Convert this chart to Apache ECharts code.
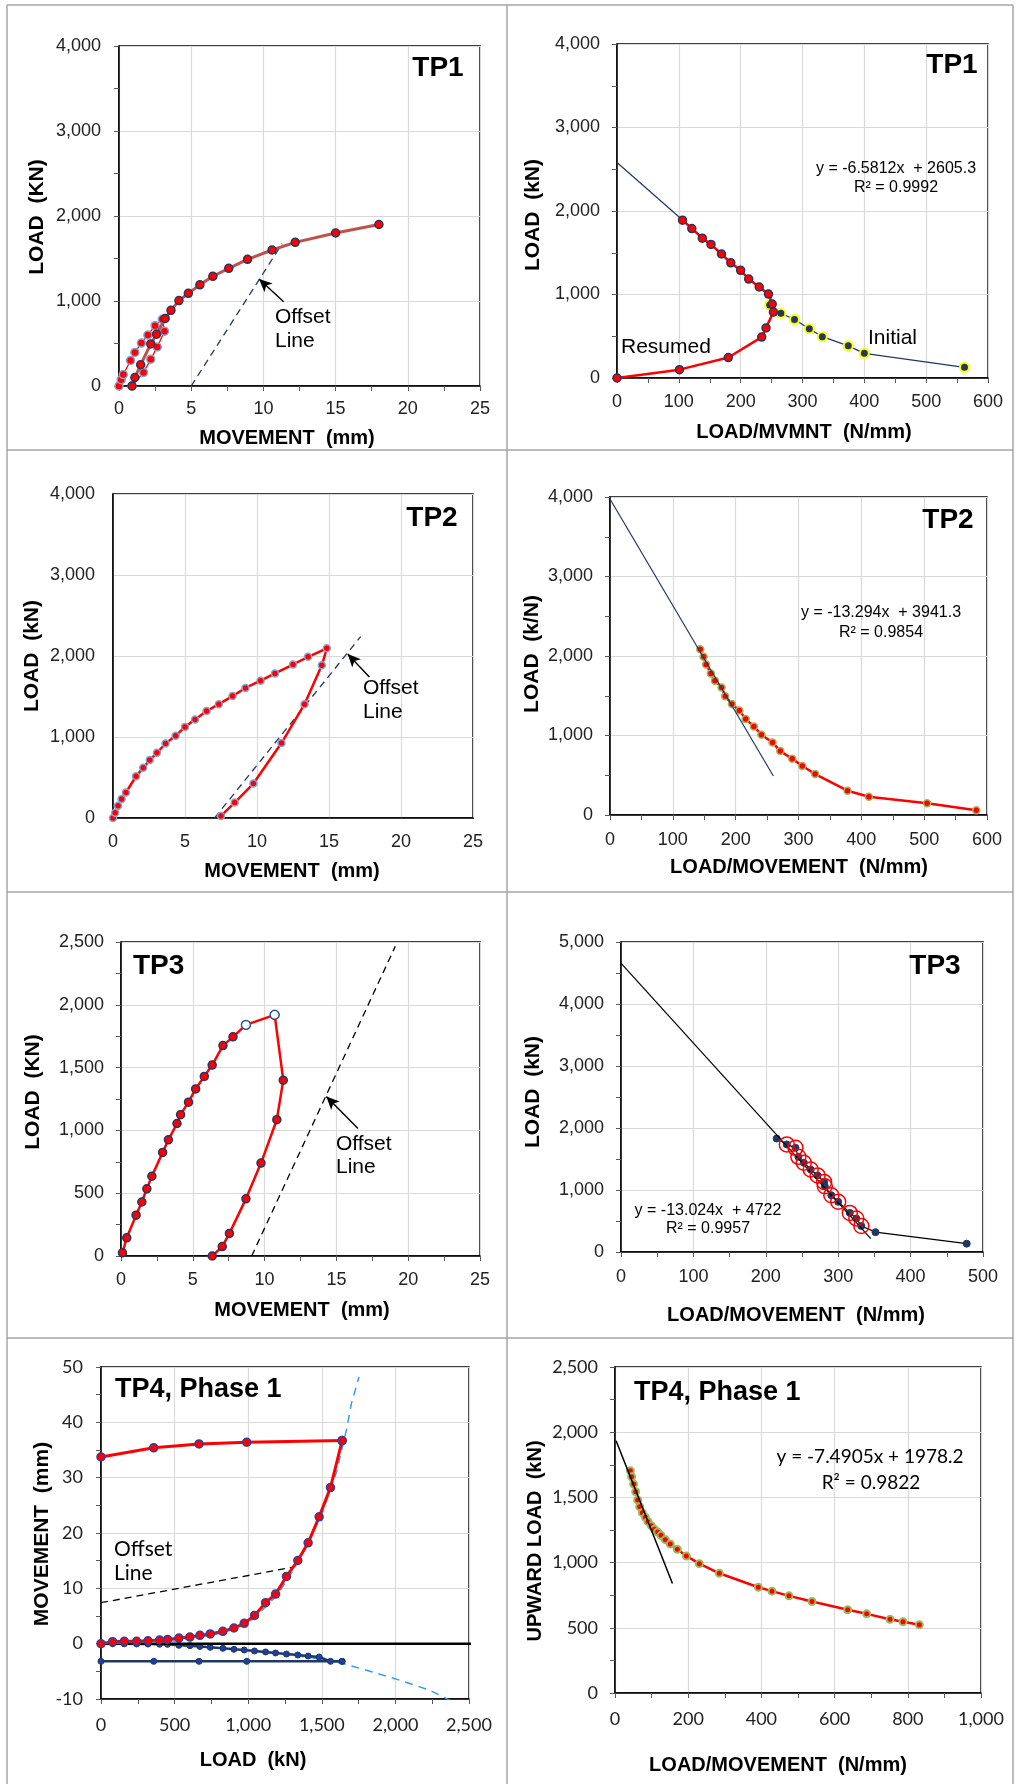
<!DOCTYPE html>
<html><head><meta charset="utf-8">
<script src="https://cdn.jsdelivr.net/npm/echarts/dist/echarts.min.js"></script>
<style>html,body{margin:0;padding:0;background:#fff}#c{width:1017px;height:1784px}</style>
</head><body><div id="c"></div>
<script>
// ---------------- DATA ----------------
// TP1 (movement mm, load kN)
const tp1Cycle = [[0,0],[0.15,75],[0.3,135],[0.8,300],[1.1,395],[1.55,505],[2.0,600],[2.5,710],[3.0,785],[3.15,645],[2.65,460],[2.2,315],[1.7,160],[0.9,0]];
const tp1Main = [[0.9,0],[1.1,100],[1.5,250],[2.2,495],[2.6,610],[3.2,795],[3.6,890],[4.15,1005],[4.8,1090],[5.6,1190],[6.5,1290],[7.6,1385],[8.9,1490],[10.6,1600],[12.2,1690],[15.0,1800],[18.0,1900]];
const tp1Offset = [[5,0],[11.3,1675]];
const tp1Arrow = [[11.4,990],[9.7,1260]];
// TP1 (load/movement N/mm, load kN)
const tp1Resumed = [[0,0],[101,100],[180,245],[234,490],[241,600],[253,790],[251,885],[245,1005],[230,1090],[213,1185],[200,1290],[184,1380],[169,1485],[152,1600],[138,1675],[121,1790],[106,1890]];
const tp1Initial = [[247,875],[265,775],[287,700],[311,590],[332,495],[374,385],[400,295],[562,128]];
const tp1Trend = [[0,2580],[250,955]];
// TP2
const tp2Load = [[0,0],[0.15,65],[0.35,150],[0.6,235],[0.9,315],[1.6,515],[2.1,620],[2.55,715],[3.05,805],[3.65,920],[4.35,1015],[5.0,1125],[5.7,1215],[6.5,1320],[7.35,1405],[8.3,1505],[9.2,1605],[10.25,1695],[11.25,1785],[12.5,1895],[13.55,1990],[14.85,2095]];
const tp2Unload = [[14.85,2095],[14.5,1885],[13.3,1405],[11.7,925],[9.75,425],[8.45,190],[7.5,25]];
const tp2Offset = [[7.05,0],[17.2,2240]];
const tp2Arrow = [[17.8,1740],[16.3,2025]];
const tp2Ratio = [143.6,149,153,160.6,167,177.6,183.4,194,206,216,229,241,258.7,271,290,306,326.5,378,412,504.6,583];
const tp2RatioLoad = [2086,1990,1893,1780,1688,1604,1495,1395,1315,1206,1114,1009,913,804,708,616,515,306,230,147,59];
const tp2Trend = [[0,3975],[260,490]];
// TP3
const tp3Load = [[0.1,25],[0.4,145],[1.05,325],[1.45,430],[1.8,535],[2.15,635],[2.9,825],[3.3,925],[3.9,1055],[4.15,1125],[4.7,1225],[5.2,1330],[5.8,1430],[6.35,1520],[7.1,1675],[7.8,1745],[8.7,1840],[10.7,1920],[11.3,1400],[10.85,1085],[9.75,740],[8.7,455],[7.55,180],[7.05,75],[6.35,0]];
const tp3Open = [[8.7,1840],[10.7,1920]];
const tp3Offset = [[9.1,0],[19.1,2465]];
const tp3Arrow = [[16.5,1015],[14.3,1270]];
const tp3Ratio = [215,229,241,245,252.5,262,271.5,280.5,281.5,290.5,300,316,325,332,351.5,477.5];
const tp3RatioLoad = [1830,1735,1680,1535,1440,1330,1235,1130,1060,915,810,630,540,420,320,135];
const tp3Trend = [[-8,4760],[345,215]];
// TP4 Phase 1 (load kN, movement mm)
const tp4Load = [0,79,158,242,319,398,452,529,604,672,742,828,903,973,1043,1118,1186,1260,1337,1407,1482,1559,1638];
const tp4Up = [0,0.36,0.42,0.42,0.53,0.66,0.77,1.02,1.2,1.5,1.75,2.23,2.83,3.67,5.1,7.4,8.96,12.15,15.03,18.22,22.92,28.21,36.7];
const tp4Down = [0,-0.02,-0.03,-0.05,-0.07,-0.1,-0.12,-0.3,-0.36,-0.5,-0.66,-0.84,-1.02,-1.14,-1.32,-1.5,-1.68,-1.87,-2.05,-2.23,-2.41,-3.2,-3.2];
const tp4ReturnLoad = [1638,990,666,358,0];
const tp4ReturnUp = [36.7,36.4,36.1,35.4,33.75];
const tp4ReturnDown = [-3.2,-3.2,-3.2,-3.2,-3.2];
const tp4FitUp = [[0,0],[500,0.5],[800,1.8],[1000,3.6],[1100,6.2],[1200,8.9],[1300,13],[1400,17.8],[1500,23.5],[1600,31],[1667,38.6],[1701,43.4],[1753,48.2]];
const tp4FitDown = [[0,0],[500,-0.2],[800,-0.8],[1000,-1.2],[1200,-1.8],[1400,-2.4],[1634,-3.5],[1803,-4.8],[2029,-6.6],[2233,-8.4],[2391,-10.5]];
const tp4Offset = [[0,7.4],[1300,13.8]];
const tp4Zero = [[0,0],[2520,0]];
const tp4Ratio = [41.9,45.5,51,56.5,62,67.4,74.7,82.9,90.2,99.3,107.5,116.6,125.7,137.5,151,170.3,194.9,230.4,285,391.6,429,475.4,538.3,635.7,687.6,751.4,786.9,831.5];
const tp4RatioLoad = [1704,1658,1602,1543,1480,1429,1383,1347,1314,1283,1255,1235,1209,1176,1143,1102,1051,992,918,811,781,745,702,638,607,566,546,523];
const tp4Trend = [[3,1935],[157,840]];

// ---------------- BUILD ----------------
const AR = "'Liberation Sans', Arial, sans-serif";
const CB = "Lato, sans-serif";
const zip = (a,b) => a.map((v,i)=>[v,b[i]]);
const fmt = v => Number(v).toLocaleString('en-US');

const grids = [
  {left:119, top:46, width:361, height:340},
  {left:617, top:44, width:371, height:334},
  {left:113, top:494, width:360, height:324},
  {left:610, top:497, width:377, height:318},
  {left:121, top:942, width:359, height:314},
  {left:621, top:942, width:362, height:310},
  {left:101, top:1367, width:368, height:332},
  {left:615, top:1367, width:366, height:326}
].map(g => Object.assign(g, {show:true, borderColor:'#000', borderWidth:1.5, backgroundColor:'transparent', containLabel:false, outerBoundsMode:'none'}));

function axis(gi, min, max, interval, minor, font, margin, ticks) {
  return {
    gridIndex:gi, type:'value', min, max, interval,
    axisLine:{show:true, onZero:false, lineStyle:{color:'#000', width:1.5}},
    axisTick:{show:ticks, length:5, lineStyle:{color:'#595959', width:1}},
    minorTick:{show:ticks && minor>1, splitNumber:minor, length:5, lineStyle:{color:'#595959', width:1}},
    splitLine:{show:true, lineStyle:{color:'#d9d9d9', width:1.2}},
    axisLabel:{fontSize:18, color:'#222', fontFamily:font, margin, formatter:fmt}
  };
}
const xAxes = [
  axis(0,0,25,5,2,AR,14,true),
  axis(1,0,600,100,2,AR,15,true),
  axis(2,0,25,5,1,AR,15,false),
  axis(3,0,600,100,2,AR,16,true),
  axis(4,0,25,5,2,AR,15,true),
  axis(5,0,500,100,2,AR,16,true),
  axis(6,0,2500,500,2,CB,17,true),
  axis(7,0,1000,200,2,CB,17,true)
];
const yAxes = [
  axis(0,0,4000,1000,2,AR,18,true),
  axis(1,0,4000,1000,2,AR,17,true),
  axis(2,0,4000,1000,1,AR,18,false),
  axis(3,0,4000,1000,2,AR,17,true),
  axis(4,0,2500,500,2,AR,17,true),
  axis(5,0,5000,1000,2,AR,17,true),
  axis(6,-10,50,10,2,CB,18,true),
  axis(7,0,2500,500,2,CB,17,true)
];

function line(gi, data, color, width, o) {
  o = o || {};
  return Object.assign({
    type:'line', xAxisIndex:gi, yAxisIndex:gi, data, animation:false, silent:true,
    symbol: o.size ? 'circle' : 'none', symbolSize:o.size||0, showSymbol: !!o.size,
    lineStyle:{color, width, type:o.dash||'solid'},
    itemStyle:{color:o.fill||color, borderColor:o.border||color, borderWidth:o.bw||1.5},
    z:o.z||2, clip: o.clip===undefined ? true : o.clip
  }, o.extra||{});
}
function arrow(pts) {
  return {markLine:{silent:true, animation:false, symbol:['none','arrow'], symbolSize:[9,13],
    lineStyle:{color:'#000', type:'solid', width:1.4}, label:{show:false},
    data:[[{coord:pts[0]},{coord:pts[1]}]]}};
}
function scat(gi, data, size, fill, border, bw, z) {
  return {type:'scatter', xAxisIndex:gi, yAxisIndex:gi, data, symbol:'circle', symbolSize:size, animation:false, silent:true,
    itemStyle:{color:fill, borderColor:border, borderWidth:bw, opacity:1}, z:z||5};
}

const NAVY = '#1f3864', RED = '#ff0000';
const series = [
  // P1
  line(0, tp1Offset, NAVY, 1.3, {dash:[7,5], extra:arrow(tp1Arrow)}),
  line(0, tp1Cycle, RED, 1.3, {size:8, fill:RED, border:'#7ea6d8', bw:1.5, z:3}),
  line(0, tp1Main, '#c0504d', 3, {size:8, fill:RED, border:NAVY, bw:1.5, z:4}),
  // P2
  line(1, tp1Trend, NAVY, 1.2, {}),
  line(1, tp1Initial, NAVY, 1.2, {size:9, fill:NAVY, border:'#ffff00', bw:2, z:3}),
  line(1, tp1Resumed, RED, 2.5, {size:8, fill:RED, border:NAVY, bw:1.5, z:4}),
  // P3
  line(2, tp2Offset, NAVY, 1.3, {dash:[7,5], extra:arrow(tp2Arrow)}),
  line(2, tp2Load.concat(tp2Unload.slice(1)), RED, 2.5, {size:7, fill:RED, border:'#7ea6d8', bw:1.5, z:4}),
  // P4
  line(3, zip(tp2Ratio, tp2RatioLoad), RED, 2.5, {size:7, fill:RED, border:'#9bbb59', bw:1.5, z:3}),
  line(3, tp2Trend, NAVY, 1.2, {z:4}),
  // P5
  line(4, tp3Offset, '#000', 1.3, {dash:[7,5], extra:arrow(tp3Arrow)}),
  line(4, tp3Load, RED, 2.5, {size:8, fill:RED, border:NAVY, bw:1.5, z:4}),
  scat(4, tp3Open, 9, '#fff', '#2f5597', 1.5, 6),
  // P6
  line(5, tp3Trend, '#000', 1.2, {clip:false, z:4}),
  line(5, zip(tp3Ratio, tp3RatioLoad), '#000', 1.2, {size:7, fill:NAVY, border:NAVY, bw:1, z:3}),
  scat(5, zip(tp3Ratio, tp3RatioLoad).slice(1,14), 15, 'rgba(0,0,0,0)', RED, 1.5, 5),
  // P7
  line(6, tp4Offset, '#000', 1.3, {dash:[7,5]}),
  line(6, tp4FitDown, '#3399ff', 1.5, {dash:[8,6], z:3}),
  line(6, zip(tp4Load, tp4Down), NAVY, 2.5, {size:6, fill:'#1f3fa0', border:NAVY, bw:1, z:4}),
  line(6, zip(tp4ReturnLoad, tp4ReturnDown), NAVY, 2.5, {size:6, fill:'#1f3fa0', border:NAVY, bw:1, z:4}),
  line(6, tp4Zero, '#000', 2.5, {clip:false, z:5}),
  line(6, tp4FitUp, '#3399ff', 1.5, {dash:[8,6], z:5}),
  line(6, zip(tp4Load, tp4Up), RED, 3, {size:8, fill:RED, border:'#3040a0', bw:1.5, z:6}),
  line(6, zip(tp4ReturnLoad, tp4ReturnUp), RED, 3, {size:8, fill:RED, border:'#3040a0', bw:1.5, z:6}),
  // P8
  line(7, zip(tp4Ratio, tp4RatioLoad), RED, 2.5, {size:7, fill:RED, border:'#9bbb59', bw:2, z:3}),
  line(7, tp4Trend, '#000', 1.5, {z:4})
];

function txt(x, y, text, font, align, rot) {
  return {type:'text', x, y, rotation:rot||0, silent:true, z:100,
    style:{text, font, fill:'#000', align:align||'center', verticalAlign:'middle'}};
}
const B21 = "bold 21px " + AR, B20 = "bold 20px " + AR, T28 = "bold 28px " + AR, T27 = "bold 27px " + AR;
const R21 = "21px " + AR, E16 = "16px " + AR, C21 = "21px " + CB, C19 = "19px " + CB;
const V = Math.PI/2;
const texts = [
  // P1
  txt(37,217,'LOAD  (KN)',B21,'center',V), txt(287,438,'MOVEMENT  (mm)',B20),
  txt(438,68,'TP1',T28), txt(275,317,'Offset',R21,'left'), txt(275,341,'Line',R21,'left'),
  // P2
  txt(533,215,'LOAD  (kN)',B21,'center',V), txt(804,432,'LOAD/MVMNT  (N/mm)',B20),
  txt(952,65,'TP1',T28), txt(621,347,'Resumed',R21,'left'), txt(868,338,'Initial',R21,'left'),
  txt(896,169,'y = -6.5812x  + 2605.3',E16), txt(896,188,'R² = 0.9992',E16),
  // P3
  txt(32,656,'LOAD  (kN)',B21,'center',V), txt(292,871,'MOVEMENT  (mm)',B20),
  txt(432,518,'TP2',T28), txt(363,688,'Offset',R21,'left'), txt(363,712,'Line',R21,'left'),
  // P4
  txt(532,654,'LOAD  (k/N)',B21,'center',V), txt(799,867,'LOAD/MOVEMENT  (N/mm)',B20),
  txt(948,520,'TP2',T28),
  txt(881,613,'y = -13.294x  + 3941.3',E16), txt(881,633,'R² = 0.9854',E16),
  // P5
  txt(33,1092,'LOAD  (KN)',B21,'center',V), txt(302,1310,'MOVEMENT  (mm)',B20),
  txt(133,966,'TP3',T28,'left'), txt(336,1144,'Offset',R21,'left'), txt(336,1167,'Line',R21,'left'),
  // P6
  txt(533,1092,'LOAD  (kN)',B21,'center',V), txt(796,1315,'LOAD/MOVEMENT  (N/mm)',B20),
  txt(935,966,'TP3',T28),
  txt(708,1211,'y = -13.024x  + 4722',E16), txt(708,1229,'R² = 0.9957',E16),
  // P7
  txt(42,1534,'MOVEMENT  (mm)',B21,'center',V), txt(253,1760,'LOAD  (kN)',B20),
  txt(115,1390,'TP4, Phase 1',T27,'left'), txt(114,1549,'Offset',C21,'left'), txt(114,1573,'Line',C21,'left'),
  // P8
  txt(535,1541,'UPWARD LOAD  (kN)',B20,'center',V), txt(778,1765,'LOAD/MOVEMENT  (N/mm)',B20),
  txt(126+508,1393,'TP4, Phase 1',T27,'left'),
  txt(870,1457,'y = -7.4905x + 1978.2',C19), txt(871,1483,'R² = 0.9822',C19)
];
function ln(x1,y1,x2,y2){return {type:'line', silent:true, z:0, shape:{x1,y1,x2,y2}, style:{stroke:'#a6a6a6', lineWidth:1.5}};}
const borders = [ln(7,5,7,1784), ln(507,5,507,1784), ln(1013,5,1013,1784),
  ln(7,5,1013,5), ln(7,450,1013,450), ln(7,892,1013,892), ln(7,1338,1013,1338)];

const chart = echarts.init(document.getElementById('c'), null, {renderer:'canvas'});
chart.setOption({
  backgroundColor:'#fff', animation:false,
  grid:grids, xAxis:xAxes, yAxis:yAxes, series,
  graphic:borders.concat(texts)
});
</script></body></html>
